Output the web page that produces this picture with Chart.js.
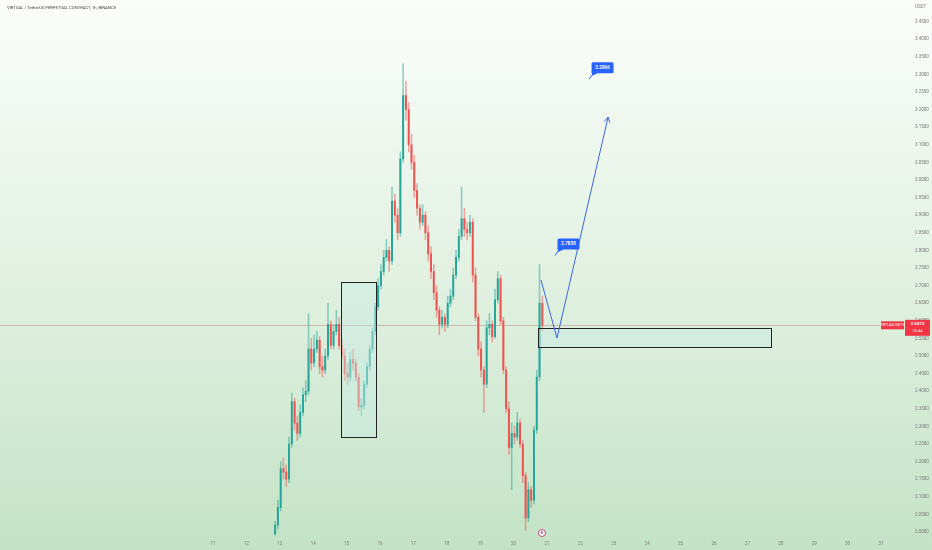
<!DOCTYPE html>
<html>
<head>
<meta charset="utf-8">
<script src="https://cdn.jsdelivr.net/npm/chart.js@4.4.1/dist/chart.umd.min.js"></script>
<style>
  html, body { margin: 0; padding: 0; background: #fff; }
  canvas { display: block; }
</style>
</head>
<body>
<canvas id="priceChart" width="932" height="550"></canvas>
<script>
const up_color = "#26a69a";
const down_color = "#ef5350";
const tick_color = "#7a7a7a"; // axis labels

// 2h candles, first one on the 12th around 20:30
const first_day = 12.86;
const bar_hours = 2;

const opens = [1.995, 2.02, 2.07, 2.18, 2.17, 2.15, 2.25, 2.37, 2.31, 2.28, 2.34, 2.39, 2.40, 2.52, 2.48, 2.52, 2.545, 2.47, 2.46, 2.50,
  2.59, 2.53, 2.57, 2.59, 2.53, 2.50, 2.45, 2.44, 2.49, 2.48, 2.44, 2.355, 2.36, 2.42, 2.47, 2.52, 2.57, 2.64, 2.70, 2.74,
  2.78, 2.80, 2.77, 2.94, 2.90, 2.85, 3.06, 3.24, 3.20, 3.10, 3.05, 2.97, 2.92, 2.88, 2.90, 2.85, 2.79, 2.74, 2.68, 2.63,
  2.59, 2.61, 2.59, 2.65, 2.67, 2.73, 2.78, 2.84, 2.89, 2.86, 2.85, 2.88, 2.73, 2.61, 2.52, 2.46, 2.42, 2.58, 2.59, 2.555,
  2.66, 2.72, 2.60, 2.46, 2.35, 2.24, 2.28, 2.27, 2.31, 2.25, 2.16, 2.04, 2.12, 2.09, 2.29, 2.44, 2.65];
const highs = [2.03, 2.09, 2.20, 2.21, 2.19, 2.27, 2.395, 2.38, 2.33, 2.36, 2.41, 2.43, 2.62, 2.55, 2.56, 2.57, 2.555, 2.50, 2.52, 2.65,
  2.60, 2.59, 2.63, 2.61, 2.55, 2.52, 2.48, 2.51, 2.52, 2.49, 2.45, 2.38, 2.43, 2.48, 2.53, 2.58, 2.65, 2.72, 2.76, 2.80,
  2.83, 2.81, 2.98, 2.96, 2.92, 3.08, 3.33, 3.28, 3.22, 3.13, 3.07, 2.99, 2.93, 2.93, 2.91, 2.87, 2.81, 2.76, 2.70, 2.64,
  2.63, 2.62, 2.67, 2.69, 2.75, 2.80, 2.86, 2.98, 2.92, 2.88, 2.90, 2.89, 2.75, 2.62, 2.54, 2.47, 2.60, 2.62, 2.60, 2.69,
  2.74, 2.73, 2.61, 2.47, 2.37, 2.31, 2.30, 2.34, 2.32, 2.26, 2.17, 2.14, 2.13, 2.30, 2.46, 2.76, 2.67];
const lows = [1.99, 2.01, 2.06, 2.15, 2.13, 2.14, 2.24, 2.29, 2.26, 2.27, 2.33, 2.37, 2.39, 2.46, 2.47, 2.51, 2.45, 2.44, 2.45, 2.49,
  2.52, 2.52, 2.56, 2.52, 2.49, 2.43, 2.42, 2.43, 2.46, 2.43, 2.345, 2.33, 2.35, 2.41, 2.46, 2.51, 2.56, 2.63, 2.69, 2.73,
  2.77, 2.74, 2.76, 2.88, 2.83, 2.84, 3.05, 3.17, 3.08, 3.03, 2.95, 2.90, 2.86, 2.87, 2.83, 2.77, 2.72, 2.66, 2.61, 2.56,
  2.58, 2.57, 2.58, 2.64, 2.66, 2.72, 2.77, 2.83, 2.84, 2.83, 2.84, 2.71, 2.60, 2.50, 2.44, 2.34, 2.41, 2.56, 2.54, 2.55,
  2.65, 2.59, 2.45, 2.34, 2.22, 2.12, 2.25, 2.26, 2.24, 2.14, 2.005, 2.03, 2.07, 2.08, 2.28, 2.43, 2.57];
const closes = [2.02, 2.07, 2.18, 2.17, 2.15, 2.25, 2.37, 2.31, 2.28, 2.34, 2.39, 2.40, 2.52, 2.48, 2.52, 2.545, 2.47, 2.46, 2.50, 2.59,
  2.53, 2.57, 2.59, 2.53, 2.50, 2.45, 2.44, 2.49, 2.48, 2.44, 2.355, 2.36, 2.42, 2.47, 2.52, 2.57, 2.64, 2.70, 2.74, 2.78,
  2.80, 2.77, 2.94, 2.90, 2.85, 3.06, 3.24, 3.20, 3.10, 3.05, 2.97, 2.92, 2.88, 2.90, 2.85, 2.79, 2.74, 2.68, 2.63, 2.59,
  2.61, 2.59, 2.65, 2.67, 2.73, 2.78, 2.84, 2.89, 2.86, 2.85, 2.88, 2.73, 2.61, 2.52, 2.46, 2.42, 2.58, 2.59, 2.555, 2.66,
  2.72, 2.60, 2.46, 2.35, 2.24, 2.28, 2.27, 2.31, 2.25, 2.16, 2.04, 2.12, 2.09, 2.29, 2.44, 2.65, 2.5872];

const last_price = 2.5872;
const countdown = "26:44";
const symbol = "VIRTUALUSDT.P";
const chart_title = "VIRTUAL / TetherUS PERPETUAL CONTRACT, 1h, BINANCE";

const day_ticks = [11, 12, 13, 14, 15, 16, 17, 18, 19, 20, 21, 22, 23, 24, 25, 26, 27, 28, 29, 30, 31];
const price_ticks = [2.00, 2.05, 2.10, 2.15, 2.20, 2.25, 2.30, 2.35, 2.40, 2.45, 2.50, 2.55, 2.60, 2.65, 2.70,
  2.75, 2.80, 2.85, 2.90, 2.95, 3.00, 3.05, 3.10, 3.15, 3.20, 3.25, 3.30, 3.35, 3.40, 3.45];

// drawings: zones [day from, day to, price top, price bottom]
const zone_boxes = [[14.83, 15.88, 2.710, 2.270], [20.73, 27.71, 2.5795, 2.5256]];
// projected path (day, price)
const path_days = [20.82, 21.30, 22.83];
const path_prices = [2.716, 2.551, 3.179];
// target callouts
const target_days = [21.24, 22.26];
const target_prices = [2.7858, 3.2866];
const event_day = 20.85;


let bar_times = [];
for (let i = 0; i < closes.length; i++) bar_times.push(first_day + i * bar_hours / 24);

function candle_color(i, alpha) {
  let rising = closes[i] >= opens[i];
  if (alpha == 1) return rising ? up_color : down_color;
  return rising ? 'rgba(38,166,154,' + alpha + ')' : 'rgba(239,83,80,' + alpha + ')';
}

function no_margins(s) {
  // keep the plot area flush with the canvas edges
  s.paddingTop = 0;
  s.paddingBottom = 0;
  s.paddingLeft = 0;
  s.paddingRight = 0;
}

const bgPlugin = {
  id: 'bg',
  beforeDraw(chart) {
    const ctx = chart.ctx;
    let g = ctx.createLinearGradient(0, 0, 0, chart.height);
    g.addColorStop(0, '#fbfdfb');
    g.addColorStop(0.5, '#e2f1e2');
    g.addColorStop(1, '#c3e3c5');
    ctx.save();
    ctx.fillStyle = g;
    ctx.fillRect(0, 0, chart.width, chart.height);
    ctx.restore();
  }
};

function callout(ctx, px, py, text) {
  let bx = px + 2.5, by = py - 17, w = 22, h = 11;
  ctx.strokeStyle = '#2962ff';
  ctx.lineWidth = 1;
  ctx.beginPath();
  ctx.moveTo(px, py);
  ctx.lineTo(bx + 2, by + h);
  ctx.stroke();
  ctx.fillStyle = '#2962ff';
  ctx.beginPath();
  ctx.moveTo(bx, by + h - 2);
  ctx.lineTo(bx + 6, by + h);
  ctx.lineTo(bx + 0.5, by + h + 2.5);
  ctx.fill();
  ctx.beginPath();
  ctx.roundRect(bx, by, w, h, 1.5);
  ctx.fill();
  ctx.fillStyle = '#fff';
  ctx.font = 'bold 4.6px Roboto';
  ctx.textAlign = 'center';
  ctx.textBaseline = 'middle';
  ctx.fillText(text, bx + w / 2, by + h / 2 + 0.3);
}

const overlayPlugin = {
  id: 'overlay',
  beforeDatasetsDraw(chart) {
    // last price line
    const ctx = chart.ctx, a = chart.chartArea, y = chart.scales.y;
    let py = Math.round(y.getPixelForValue(last_price)) + 0.5;
    ctx.save();
    ctx.strokeStyle = 'rgba(185,125,115,0.45)';
    ctx.lineWidth = 1;
    ctx.beginPath();
    ctx.moveTo(a.left, py);
    ctx.lineTo(a.right, py);
    ctx.stroke();
    ctx.restore();
  },
  afterDatasetsDraw(chart) {
    const ctx = chart.ctx, x = chart.scales.x, y = chart.scales.y;
    ctx.save();
    // zones
    zone_boxes.forEach(b => {
      let x1 = Math.round(x.getPixelForValue(b[0])) + 0.5, x2 = Math.round(x.getPixelForValue(b[1])) + 0.5;
      let y1 = Math.round(y.getPixelForValue(b[2])) + 0.5, y2 = Math.round(y.getPixelForValue(b[3])) + 0.5;
      ctx.fillStyle = 'rgba(200,236,228,0.45)';
      ctx.fillRect(x1, y1, x2 - x1, y2 - y1);
      ctx.strokeStyle = '#222';
      ctx.lineWidth = 1;
      ctx.strokeRect(x1, y1, x2 - x1, y2 - y1);
    });
    // projection path with arrow
    ctx.strokeStyle = '#3a66e0';
    ctx.lineWidth = 1;
    ctx.beginPath();
    path_days.forEach((d, i) => {
      let px = x.getPixelForValue(d), py = y.getPixelForValue(path_prices[i]);
      if (i == 0) ctx.moveTo(px, py); else ctx.lineTo(px, py);
    });
    ctx.stroke();
    let n = path_days.length;
    let tx = x.getPixelForValue(path_days[n - 1]), ty = y.getPixelForValue(path_prices[n - 1]);
    let fx = x.getPixelForValue(path_days[n - 2]), fy = y.getPixelForValue(path_prices[n - 2]);
    let ang = Math.atan2(ty - fy, tx - fx);
    ctx.beginPath();
    ctx.moveTo(tx - 6 * Math.cos(ang - 0.5), ty - 6 * Math.sin(ang - 0.5));
    ctx.lineTo(tx, ty);
    ctx.lineTo(tx - 6 * Math.cos(ang + 0.5), ty - 6 * Math.sin(ang + 0.5));
    ctx.stroke();
    // targets
    target_days.forEach((d, i) => {
      callout(ctx, x.getPixelForValue(d), y.getPixelForValue(target_prices[i]), target_prices[i].toFixed(4));
    });
    ctx.restore();
  },
  afterDraw(chart) {
    const ctx = chart.ctx, a = chart.chartArea, x = chart.scales.x, y = chart.scales.y;
    ctx.save();
    ctx.textBaseline = 'middle';
    // title
    ctx.fillStyle = '#444';
    ctx.font = '4.2px Roboto';
    ctx.textAlign = 'left';
    ctx.fillText(chart_title, 7, 8);
    // currency label on top of the price axis
    ctx.fillStyle = tick_color;
    ctx.font = '4.5px Roboto';
    ctx.fillText('USDT', 915, 7);
    // price tag
    let py = y.getPixelForValue(last_price);
    ctx.fillStyle = '#f23645';
    ctx.fillRect(881, py - 4, 23, 8);
    ctx.fillRect(905, py - 5.5, 25, 16);
    ctx.fillStyle = '#fff';
    ctx.font = '3.6px Roboto';
    ctx.textAlign = 'center';
    ctx.fillText(symbol, 892.5, py);
    ctx.font = 'bold 4.4px Roboto';
    ctx.fillText(last_price.toFixed(4), 917.5, py - 1);
    ctx.font = '4px Roboto';
    ctx.fillText(countdown, 917.5, py + 6);
    // event marker on the time axis
    let ex = x.getPixelForValue(event_day);
    ctx.beginPath();
    ctx.arc(ex, a.bottom - 3, 3.5, 0, Math.PI * 2);
    ctx.fillStyle = '#fff';
    ctx.fill();
    ctx.strokeStyle = '#c2185b';
    ctx.lineWidth = 0.8;
    ctx.stroke();
    ctx.fillStyle = '#7b1fa2';
    ctx.font = 'bold 3.5px Roboto';
    ctx.fillText('E', ex, a.bottom - 2.8);
    ctx.restore();
  }
};

let wick_data = [], body_data = [];
for (let i = 0; i < closes.length; i++) {
  wick_data.push({x: bar_times[i], y: [lows[i], highs[i]]});
  body_data.push({x: bar_times[i], y: [opens[i], closes[i]]});
}

let config = {
  type: 'bar',
  data: {
    datasets: [
      {
        data: wick_data,
        backgroundColor: c => candle_color(c.dataIndex, 0.5),
        barThickness: 0.9,
        grouped: false,
      },
      {
        data: body_data,
        backgroundColor: c => candle_color(c.dataIndex, 1),
        barThickness: 1.3,
        minBarLength: 1,
        grouped: false,
      }
    ]
  },
  options: {
    responsive: false,
    animation: false,
    devicePixelRatio: 1,
    events: [],
    layout: { padding: 0, autoPadding: false },
    plugins: {
      legend: { display: false },
      tooltip: { enabled: false },
    },
    scales: {
      x: {
        type: 'linear',
        offset: false, // bar charts offset the index axis by default
        min: 4.623,
        max: 31.09,
        grid: { display: false, drawTicks: false, offset: false },
        border: { display: false },
        afterBuildTicks: s => { s.ticks = day_ticks.map(v => ({value: v})); },
        afterFit: s => { s.height = 14; no_margins(s); },
        ticks: {
          autoSkip: false,
          maxRotation: 0,
          padding: 5,
          color: tick_color,
          font: { family: 'Roboto', size: 4.5 },
          callback: v => String(v)
        }
      },
      y: {
        position: 'right',
        min: 1.98864,
        max: 3.5114,
        grid: { display: false, drawTicks: false },
        border: { display: false },
        afterBuildTicks: s => { s.ticks = price_ticks.map(v => ({value: v})); },
        afterFit: s => { s.width = 48; no_margins(s); },
        ticks: {
          autoSkip: false,
          padding: 31,
          color: tick_color,
          font: { family: 'Roboto', size: 4.5 },
          callback: v => v.toFixed(4)
        }
      }
    }
  },
  plugins: [bgPlugin, overlayPlugin]
};

let ctx = document.getElementById('priceChart').getContext('2d');
let priceChart = new Chart(ctx, config);
</script>
</body>
</html>
